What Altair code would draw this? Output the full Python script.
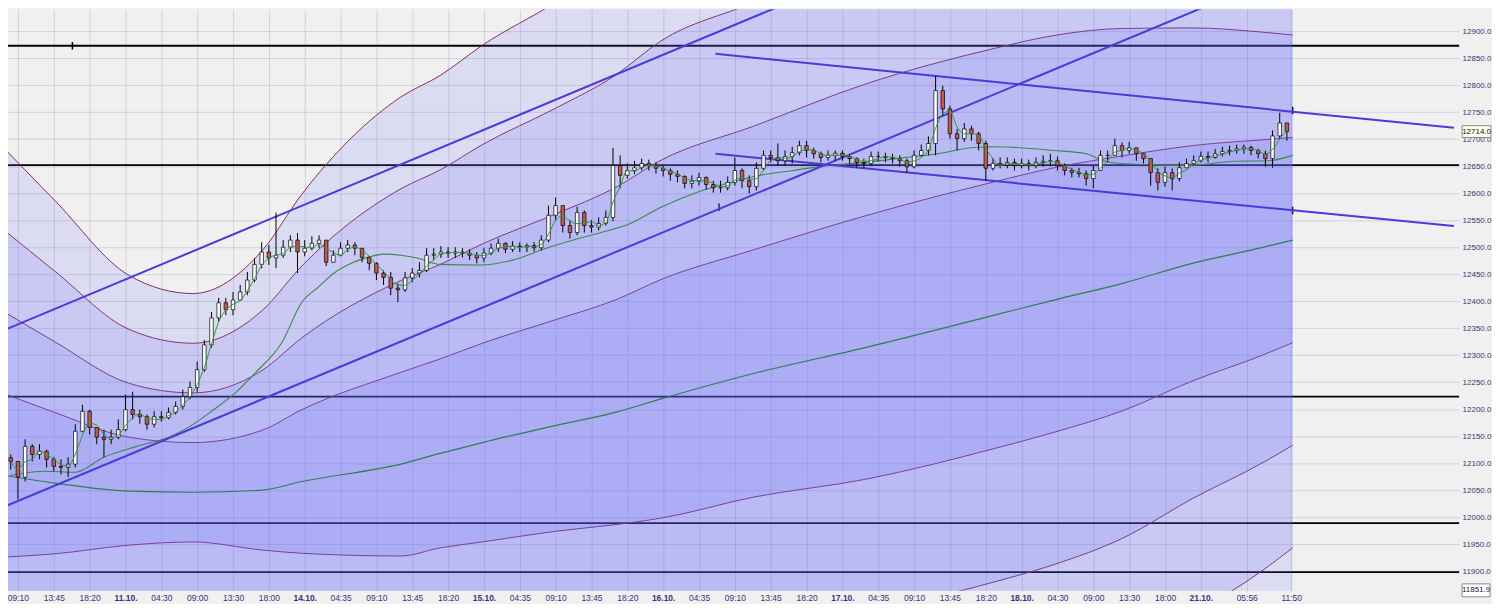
import altair as alt
import pandas as pd

# ---------------- axis definitions (bar-index based time axis) ----------------
tick_pos = [0, 5, 10, 15, 20, 25, 30, 35, 40, 45, 50, 55, 60, 65, 70, 75, 80, 85, 90,
            95, 100, 105, 110, 115, 120, 125, 130, 135, 140, 145, 150, 155, 160, 165,
            171.4, 177.6]
tick_lab = ["09:10", "13:45", "18:20", "11.10.", "04:30", "09:00", "13:30", "18:00",
            "14.10.", "04:35", "09:10", "13:45", "18:20", "15.10.", "04:35", "09:10",
            "13:45", "18:20", "16.10.", "04:35", "09:10", "13:45", "18:20", "17.10.",
            "04:35", "09:10", "13:45", "18:20", "18.10.", "04:30", "09:00", "13:30",
            "18:00", "21.10.", "05:56", "11:50"]
day_pos = [15, 40, 65, 90, 115, 140, 165]
price_ticks = list(range(11900, 12951, 50))

X0, X1 = -0.69, 200.33
Y0, Y1 = 11863.4, 12940.7

# ---------------- candles ----------------
first_open = 12110
close = [12103, 12074, 12131, 12116, 12122, 12107, 12094, 12092, 12098, 12159,
         12196, 12166, 12148, 12144, 12148, 12162, 12199, 12190, 12186, 12172,
         12186, 12184, 12194, 12205, 12223, 12240, 12273, 12319, 12369, 12397,
         12384, 12402, 12417, 12439, 12468, 12491, 12480, 12485, 12500, 12513,
         12491, 12498, 12507, 12513, 12472, 12485, 12498, 12504, 12498, 12481,
         12470, 12452, 12444, 12424, 12421, 12443, 12452, 12457, 12485, 12487,
         12491, 12489, 12491, 12489, 12485, 12480, 12489, 12498, 12507, 12496,
         12502, 12500, 12503, 12499, 12513, 12559, 12577, 12540, 12527, 12564,
         12540, 12537, 12544, 12555, 12651, 12633, 12642, 12647, 12655, 12651,
         12646, 12642, 12635, 12631, 12618, 12622, 12629, 12616, 12610, 12610,
         12620, 12642, 12623, 12612, 12646, 12670, 12666, 12660, 12668, 12675,
         12688, 12679, 12673, 12666, 12670, 12674, 12668, 12664, 12657, 12655,
         12668, 12668, 12666, 12664, 12660, 12649, 12670, 12679, 12692, 12790,
         12756, 12710, 12701, 12719, 12710, 12692, 12646, 12655, 12652, 12657,
         12651, 12655, 12651, 12657, 12659, 12660, 12651, 12642, 12638, 12636,
         12627, 12642, 12670, 12670, 12688, 12679, 12684, 12673, 12664, 12638,
         12620, 12638, 12627, 12647, 12655, 12660, 12668, 12666, 12673, 12677,
         12679, 12682, 12685, 12679, 12673, 12664, 12706, 12730, 12714]
high = [12116, 12103, 12144, 12135, 12135, 12125, 12111, 12107, 12111, 12172,
        12208, 12199, 12166, 12162, 12162, 12181, 12227, 12232, 12199, 12190,
        12196, 12196, 12203, 12214, 12236, 12251, 12288, 12328, 12380, 12406,
        12406, 12417, 12430, 12454, 12480, 12509, 12504, 12564, 12513, 12522,
        12526, 12513, 12520, 12522, 12513, 12494, 12509, 12513, 12509, 12498,
        12483, 12472, 12457, 12454, 12433, 12454, 12461, 12472, 12498, 12498,
        12502, 12500, 12500, 12498, 12496, 12491, 12498, 12507, 12516, 12509,
        12511, 12509, 12507, 12509, 12522, 12577, 12592, 12577, 12550, 12575,
        12568, 12550, 12555, 12568, 12684, 12670, 12655, 12660, 12664, 12662,
        12657, 12651, 12646, 12642, 12633, 12633, 12638, 12631, 12623, 12623,
        12631, 12666, 12646, 12633, 12657, 12679, 12679, 12692, 12679, 12686,
        12697, 12697, 12684, 12677, 12679, 12679, 12679, 12673, 12666, 12664,
        12677, 12677, 12675, 12673, 12670, 12664, 12679, 12690, 12705, 12817,
        12799, 12762, 12719, 12730, 12725, 12714, 12697, 12664, 12666, 12666,
        12664, 12664, 12662, 12666, 12670, 12673, 12668, 12655, 12647, 12647,
        12642, 12651, 12679, 12679, 12701, 12694, 12695, 12684, 12675, 12664,
        12646, 12649, 12646, 12657, 12664, 12670, 12677, 12677, 12682, 12686,
        12688, 12690, 12690, 12688, 12682, 12679, 12716, 12749, 12730]
low = [12088, 12033, 12066, 12103, 12107, 12092, 12085, 12079, 12074, 12092,
       12157, 12153, 12135, 12111, 12135, 12144, 12159, 12181, 12173, 12162,
       12166, 12177, 12181, 12190, 12199, 12218, 12232, 12269, 12314, 12362,
       12374, 12374, 12402, 12411, 12435, 12461, 12467, 12461, 12480, 12491,
       12452, 12483, 12494, 12498, 12465, 12472, 12483, 12491, 12485, 12472,
       12457, 12439, 12430, 12411, 12398, 12417, 12435, 12444, 12454, 12476,
       12480, 12480, 12480, 12481, 12476, 12470, 12472, 12485, 12491, 12489,
       12491, 12491, 12491, 12492, 12494, 12509, 12550, 12527, 12516, 12522,
       12527, 12527, 12531, 12540, 12548, 12609, 12627, 12635, 12642, 12642,
       12636, 12631, 12623, 12620, 12609, 12609, 12614, 12607, 12601, 12601,
       12605, 12614, 12609, 12599, 12605, 12642, 12657, 12651, 12651, 12655,
       12670, 12666, 12664, 12657, 12660, 12660, 12660, 12655, 12647, 12646,
       12650, 12659, 12657, 12655, 12649, 12638, 12646, 12668, 12670, 12670,
       12743, 12701, 12679, 12695, 12697, 12679, 12623, 12642, 12646, 12646,
       12642, 12646, 12642, 12646, 12649, 12649, 12642, 12633, 12629, 12629,
       12614, 12609, 12642, 12657, 12670, 12666, 12673, 12660, 12655, 12614,
       12605, 12612, 12605, 12622, 12646, 12651, 12657, 12657, 12664, 12668,
       12670, 12673, 12673, 12670, 12664, 12649, 12647, 12701, 12697]
bar_idx = list(range(-1, 178))
opens = [first_open] + close[:-1]
candles = pd.DataFrame({"idx": bar_idx, "open": opens, "high": high,
                        "low": low, "close": close})

# ---------------- deviation channel (centre line + width) ----------------
band_idx = [-1.79, 5.1, 15.45, 24.4, 34.1, 39.6, 53.4, 58.9, 64.8, 75.1, 83.3,
            89.7, 102.6, 118.2, 136.2, 144.5, 154.1, 163.8, 173.8, 177.8]
band_mid = [12077, 12063, 12048, 12046, 12050, 12066, 12098, 12118, 12138, 12170,
            12194, 12219, 12266, 12314, 12374, 12402, 12433, 12470, 12500, 12513]
band_sd = [151, 131, 100, 92, 111, 133, 170, 175, 184, 196, 208, 221, 229, 244,
           247, 245, 236, 218, 199, 190]
bands = pd.DataFrame({"idx": band_idx, "mid": band_mid, "sd": band_sd})

# ---------------- medium moving average ----------------
mid_idx = [-1.1, 3.7, 7.9, 12.0, 16.6, 21.2, 24.0, 26.8, 30.4, 33.1, 36.8, 39.6,
           41.9, 44.1, 46.5, 48.8, 51.0, 53.4, 55.7, 58.9, 64.4, 69.0, 73.7, 78.2,
           82.4, 85.1, 89.7, 94.4, 98.9, 103.5, 108.2, 112.7, 118.2, 123.8, 128.3,
           133.0, 136.2, 144.5, 149.0, 151.4, 153.7, 162.8, 169.7, 174.4, 177.8]
mid_val = [12077, 12085, 12083, 12111, 12131, 12149, 12168, 12194, 12231, 12267,
           12323, 12398, 12426, 12452, 12470, 12481, 12487, 12485, 12480, 12468,
           12467, 12476, 12498, 12516, 12531, 12542, 12574, 12600, 12618, 12633,
           12642, 12651, 12657, 12666, 12673, 12684, 12686, 12679, 12673, 12660,
           12655, 12651, 12659, 12660, 12670]
medium = pd.DataFrame({"idx": mid_idx, "v": mid_val})

# ---------------- horizontal levels & trend lines ----------------
levels = [12873, 12652, 12223, 11989, 11898]
trend_name = ["up1", "up1", "up2", "up2", "dn1", "dn1", "dn2", "dn2"]
trend_idx = [-1.79, 107.9, -1.79, 167.4, 97.3, 200.3, 97.3, 200.3]
trend_val = [12347, 12955.5, 12020, 12955.5, 12858, 12721, 12673, 12539]
trends = pd.DataFrame({"name": trend_name, "idx": trend_idx, "v": trend_val})
mark_idx = [7.6, 97.8, 177.8, 177.8]
mark_val = [12873, 12574, 12753, 12568]
marks = pd.DataFrame({"idx": mark_idx, "v": mark_val})
last_price = 12714.0
cursor_price = 11851.9

# ---------------- scales / axes ----------------
FONT = "Liberation Sans"
xs = alt.Scale(domain=[X0, X1], nice=False, zero=False)
ys = alt.Scale(domain=[Y0, Y1], nice=False, zero=False)
lab_arr = "[" + ",".join("'%s'" % s for s in tick_lab) + "]"
pos_arr = "[" + ",".join(str(p) for p in tick_pos) + "]"
day_arr = "[" + ",".join(str(p) for p in day_pos) + "]"
xaxis = alt.Axis(values=tick_pos, labelExpr=f"{lab_arr}[indexof({pos_arr}, datum.value)]",
                 title=None, ticks=False, domain=False, grid=True,
                 gridColor="#50507a", gridOpacity=0.18, labelFont=FONT,
                 labelFontSize=8.5, labelColor="#35357a", labelPadding=3,
                 labelOverlap=False, labelFlush=False,
                 labelFontWeight={"condition": {"test": f"indexof({day_arr}, datum.value) >= 0",
                                                "value": "bold"}, "value": "normal"})
yaxis = alt.Axis(values=price_ticks, format=".1f", orient="right", title=None,
                 ticks=False, domain=False, grid=True, gridColor="#50507a",
                 gridOpacity=0.18, labelFont=FONT, labelFontSize=8,
                 labelColor="#35357a", labelPadding=3, labelOverlap=False,
                 labelFlush=False)


def X(field):
    return alt.X(field, type="quantitative", scale=xs, axis=xaxis)


def Y(field):
    return alt.Y(field, type="quantitative", scale=ys, axis=yaxis)


def YD(value):
    return alt.YDatum(value, type="quantitative", scale=ys, axis=yaxis)


layers = []
# horizontal black levels
layers.append(alt.Chart(pd.DataFrame({"level": levels})).mark_rule(
    color="black", strokeWidth=1.8).encode(y=Y("level")))
# tiny markers
layers.append(alt.Chart(marks).transform_calculate(
    a="datum.v - 7", b="datum.v + 7").mark_rule(color="black", strokeWidth=1.5, clip=True)
    .encode(x=X("idx"), y=Y("a"), y2="b:Q"))
# channel boundary curves (drawn beneath the translucent fills)
for k in [4, 3, 2, 1, -1, -2, -3, -4]:
    layers.append(alt.Chart(bands).transform_calculate(
        v=f"datum.mid + ({k}) * datum.sd").mark_line(
        color="#8c2850", strokeWidth=1, interpolate="monotone", clip=True)
        .encode(x=X("idx"), y=Y("v")))
# translucent channel fills
for k in [4, 3, 2, 1]:
    layers.append(alt.Chart(bands).transform_calculate(
        lo=f"datum.mid - {k} * datum.sd", hi=f"datum.mid + {k} * datum.sd").mark_area(
        color="#6464ff", opacity=0.15, interpolate="monotone", clip=True)
        .encode(x=X("idx"), y=Y("lo"), y2="hi:Q"))
# long and medium averages
layers.append(alt.Chart(bands).mark_line(color="#2e7d52", strokeWidth=1.2,
                                         interpolate="monotone", clip=True)
              .encode(x=X("idx"), y=Y("mid")))
layers.append(alt.Chart(medium).mark_line(color="#3a8a48", strokeWidth=1.1,
                                          interpolate="monotone", clip=True)
              .encode(x=X("idx"), y=Y("v")))
# trend lines
layers.append(alt.Chart(trends).mark_line(color="#4a3ad8", strokeWidth=2, clip=True)
              .encode(x=X("idx"), y=Y("v"), detail="name:N"))
# candles
layers.append(alt.Chart(candles).mark_rule(color="black", strokeWidth=1, clip=True)
              .encode(x=X("idx"), y=Y("low"), y2="high:Q"))
layers.append(alt.Chart(candles).mark_bar(size=3.5, stroke="black", strokeWidth=0.7, clip=True)
              .encode(x=X("idx"), y=Y("open"), y2="close:Q",
                      color=alt.condition("datum.close >= datum.open",
                                          alt.value("#ffffff"), alt.value("#c25a50"))))
# short moving average
layers.append(alt.Chart(candles).transform_window(
    ma="mean(close)", frame=[-2, 0], sort=[alt.SortField("idx")]).mark_line(
    color="#2a9a3c", strokeWidth=1, interpolate="monotone", clip=True)
    .encode(x=X("idx"), y=Y("ma:Q")))
# price boxes on the axis
layers.append(alt.Chart(pd.DataFrame({"a": [0]})).mark_rect(
    fill="#fbfbe6", stroke="#8a8a8a", strokeWidth=1).encode(
    x=alt.value(1460), x2=alt.value(1489),
    y=YD(last_price + 11), y2=alt.Y2Datum(last_price - 11)))
layers.append(alt.Chart(pd.DataFrame({"a": [0]})).mark_text(
    text=f"{last_price:.1f}", font=FONT, fontSize=8, color="#202020",
    align="center", baseline="middle").encode(x=alt.value(1474.5), y=YD(last_price)))
layers.append(alt.Chart(pd.DataFrame({"a": [0]})).mark_rect(
    fill="#ffffff", stroke="#8a8a8a", strokeWidth=1).encode(
    x=alt.value(1460), x2=alt.value(1488), y=alt.value(577), y2=alt.value(590)))
layers.append(alt.Chart(pd.DataFrame({"a": [0]})).mark_text(
    text=f"{cursor_price:.1f}", font=FONT, fontSize=8, color="#202040",
    align="center", baseline="middle").encode(x=alt.value(1474), y=alt.value(583.5)))

chart = alt.layer(*layers).properties(
    width=1457, height=584,
    autosize=alt.AutoSizeParams(type="none"),
    padding={"left": 0, "top": 0, "right": 33, "bottom": 12},
    background="#f0f0f0",
).configure_view(stroke=None)

chart.save("out.html", embed_options={"renderer": "svg", "actions": False})
